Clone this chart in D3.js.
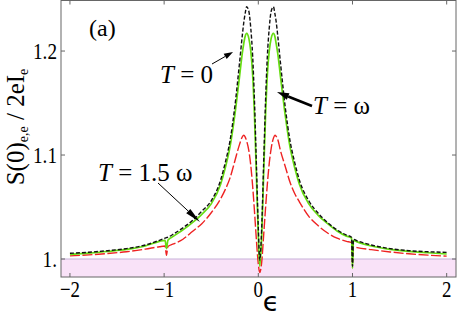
<!DOCTYPE html>
<html><head><meta charset="utf-8">
<script src="https://cdn.jsdelivr.net/npm/d3@7"></script>
<style>body{margin:0;background:#fff}svg{display:block}</style>
</head><body><svg id="c" width="457" height="318"></svg>
<script>
const eps = [-2,-1.8,-1.6,-1.4,-1.2,-1.05,-0.99,-0.975,-0.96,-0.9,-0.8,-0.7,-0.6,-0.5,-0.4,-0.35,-0.3,-0.25,-0.2,-0.17,-0.155,-0.14,-0.124,-0.1,-0.08,-0.06,-0.04,-0.02,0,0.015,0.036,0.056,0.076,0.096,0.116,0.136,0.16,0.176,0.19,0.206,0.236,0.286,0.336,0.386,0.436,0.536,0.636,0.736,0.836,0.936,0.99,1.0,1.01,1.05,1.2,1.4,1.6,1.8,2];
const sT0 = [1.0055,1.0065,1.008,1.010,1.0135,1.018,1.020,1.0205,1.021,1.024,1.030,1.037,1.046,1.056,1.076,1.093,1.114,1.146,1.188,1.215,1.227,1.236,1.2426,1.238,1.222,1.195,1.150,1.090,1.030,0.999,1.030,1.090,1.150,1.195,1.222,1.238,1.2426,1.236,1.228,1.215,1.188,1.146,1.114,1.093,1.076,1.056,1.044,1.035,1.028,1.023,1.021,0.993,1.019,1.0175,1.0135,1.010,1.008,1.007,1.0064];
const sT1 = [1.0045,1.0057,1.0072,1.0092,1.0125,1.017,1.018,1.010,1.018,1.022,1.028,1.035,1.043,1.053,1.072,1.088,1.108,1.138,1.175,1.198,1.207,1.214,1.217,1.212,1.200,1.177,1.136,1.080,1.022,0.993,1.022,1.080,1.136,1.177,1.200,1.212,1.217,1.214,1.207,1.198,1.175,1.138,1.108,1.088,1.072,1.053,1.042,1.034,1.027,1.022,1.020,0.991,1.018,1.0165,1.0125,1.0093,1.0073,1.006,1.0048];
const sT15 = [1.003,1.004,1.0053,1.007,1.0095,1.0118,1.0125,1.0035,1.012,1.0145,1.019,1.0265,1.034,1.0445,1.058,1.067,1.078,1.094,1.110,1.1175,1.119,1.1175,1.1135,1.104,1.090,1.070,1.045,1.018,0.995,0.987,0.997,1.022,1.048,1.072,1.092,1.106,1.116,1.119,1.118,1.115,1.104,1.089,1.074,1.063,1.055,1.041,1.032,1.025,1.020,1.017,1.0158,0.996,1.012,1.011,1.009,1.0068,1.005,1.0037,1.0028];
const xTicks = [-2,-1,0,1,2];
const xTickLabels = ["\u22122","\u22121","0","1","2"];
const yTicks = [1.0,1.1,1.2];
const yTickLabels = ["1.","1.1","1.2"];

const SERIF = "Liberation Serif, Tinos, DejaVu Serif, serif";
const svg = d3.select("#c");
const L=61,R=456,T=0.5,B=277;
const x = d3.scaleLinear().domain([-2.095,2.099]).range([L,R]);
const y = d3.scaleLinear().domain([0.9827,1.2486]).range([B,T]);

svg.append("rect").attr("x",L).attr("y",y(1.0)).attr("width",R-L).attr("height",B-y(1.0)).attr("fill","#f9e2f8");
svg.append("line").attr("x1",L).attr("x2",R).attr("y1",y(1.0)).attr("y2",y(1.0)).attr("stroke","#c7b0d8").attr("stroke-width",1);

const line = (vals)=>d3.line().x((d,i)=>x(eps[i])).y(d=>y(d)).curve(d3.curveMonotoneX)(vals);
svg.append("path").attr("d",line(sT15)).attr("fill","none").attr("stroke","#ee2222").attr("stroke-width",1.4).attr("stroke-dasharray","10,2.5");
svg.append("path").attr("d",line(sT1)).attr("fill","none").attr("stroke","#66dd11").attr("stroke-width",1.7);
svg.append("path").attr("d",line(sT0)).attr("fill","none").attr("stroke","#111").attr("stroke-width",1.4).attr("stroke-dasharray","4,2");

svg.append("rect").attr("x",L).attr("y",T).attr("width",R-L).attr("height",B-T).attr("fill","none").attr("stroke","#666").attr("stroke-width",1);
const tk=4;
xTicks.forEach((t,i)=>{
  svg.append("line").attr("x1",x(t)).attr("x2",x(t)).attr("y1",B).attr("y2",B-tk).attr("stroke","#666");
  svg.append("line").attr("x1",x(t)).attr("x2",x(t)).attr("y1",T).attr("y2",T+tk).attr("stroke","#666");
  svg.append("text").style("font-family",SERIF).attr("transform",`translate(${x(t)},297) scale(0.82,1)`).attr("text-anchor","middle").attr("font-size",23).text(xTickLabels[i]);
});
yTicks.forEach((t,i)=>{
  svg.append("line").attr("x1",L).attr("x2",L+tk).attr("y1",y(t)).attr("y2",y(t)).attr("stroke","#666");
  svg.append("line").attr("x1",R).attr("x2",R-tk).attr("y1",y(t)).attr("y2",y(t)).attr("stroke","#666");
  svg.append("text").style("font-family",SERIF).attr("transform",`translate(57,${y(t)+8}) scale(0.8,1)`).attr("text-anchor","end").attr("font-size",24).text(yTickLabels[i]);
});

svg.append("text").attr("x",271).attr("y",311).attr("text-anchor","middle").attr("font-size",27).style("font-family","DejaVu Sans").text("\u03f5");
const yl = svg.append("text").style("font-family",SERIF).attr("transform","translate(24,127) rotate(-90)").attr("text-anchor","middle").attr("font-size",25);
yl.append("tspan").text("S(0)");
yl.append("tspan").attr("font-size",14).attr("dy",4).text("e,e");
yl.append("tspan").attr("dy",-4).text("  / 2eI");
yl.append("tspan").attr("font-size",14).attr("dy",4).text("e");

svg.append("text").style("font-family",SERIF).attr("x",89).attr("y",36).attr("font-size",24).text("(a)");
function lab(xp,yp,parts){
  const t=svg.append("text").style("font-family",SERIF).attr("x",xp).attr("y",yp).attr("font-size",25);
  t.append("tspan").attr("font-style","italic").text("T");
  t.append("tspan").text(parts);
}
lab(160,83," = 0");
lab(313,114," = \u03c9");
lab(98,181," = 1.5 \u03c9");

function arrow(x1,y1,x2,y2,w,hl,hw){
  const dx=x2-x1, dy=y2-y1, len=Math.hypot(dx,dy), ux=dx/len, uy=dy/len;
  const bx=x2-ux*hl, by=y2-uy*hl;
  svg.append("line").attr("x1",x1).attr("y1",y1).attr("x2",bx).attr("y2",by).attr("stroke","#000").attr("stroke-width",w);
  svg.append("polygon").attr("points",[[x2,y2],[bx-uy*hw,by+ux*hw],[bx+uy*hw,by-ux*hw]].map(p=>p.join(",")).join(" ")).attr("fill","#000");
}
arrow(212,64,233,52,1,9,3);
arrow(312,106,277,92,2.6,12,3.5);
arrow(158,183,200,222,1,16,3);
</script></body></html>
